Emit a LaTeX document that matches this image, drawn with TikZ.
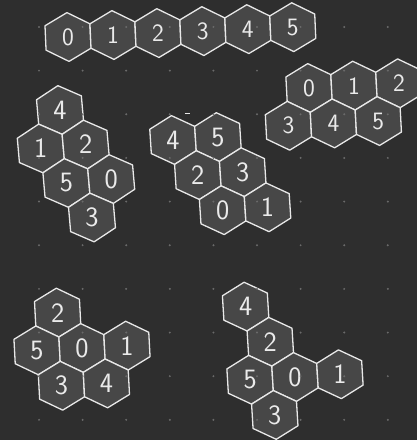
\documentclass[tikz,border=0pt]{standalone}
\usepackage{tikz}
\definecolor{bgc}{HTML}{2E2E2E}
\definecolor{cellc}{HTML}{474747}
\definecolor{linec}{HTML}{E8E8E8}
\definecolor{dotc}{HTML}{6A6A6A}
\definecolor{textc}{HTML}{EAEAEA}
\tikzset{
  cell/.style={draw=linec, fill=cellc, line width=1.3pt, line join=round},
  digit/.style={text=textc, font=\sffamily\fontsize{25}{25}\selectfont, inner sep=0pt},
  bigdigit/.style={digit, font=\sffamily\fontsize{28}{28}\selectfont},
  griddot/.style={fill=dotc, draw=none},
}
% #1 name, #2 q, #3 r, #4 label, #5 digit style
\newcommand\hexcell[5]{%
  \pgfmathsetmacro\hx{(#2)*45+(#3)*22.5}%
  \pgfmathsetmacro\hy{-(#3)*38.971}%
  \draw[cell] (\hx,\hy) +(30:25.98) -- +(90:25.98) -- +(150:25.98) -- +(210:25.98) -- +(270:25.98) -- +(330:25.98) -- cycle;
  \node[#5] (#1) at (\hx,\hy) {#4};
}
\begin{document}
\begin{tikzpicture}[x=1pt,y=1pt]
\fill[bgc] (0,0) rectangle (417,440);
\useasboundingbox (0,0) rectangle (417,440);

% group 1: top row
\begin{scope}[shift={(68,403)}, rotate=2.5, yscale=0.94]
  \foreach \q/\r/\t in {0/0/0, 1/0/1, 2/0/2, 3/0/3, 4/0/4, 5/0/5}
    {\hexcell{a\t}{\q}{\r}{\t}{digit}}
\end{scope}

% group 2: left middle
\begin{scope}[shift={(60,330)}, rotate=5, yscale=0.94]
  \foreach \q/\r/\t in {0/0/4, -1/1/1, 0/1/2, -1/2/5, 0/2/0, -1/3/3}
    {\hexcell{b\t}{\q}{\r}{\t}{bigdigit}}
\end{scope}

% group 3: centre
\begin{scope}[shift={(173,300)}, rotate=3.7, yscale=0.94]
  \foreach \q/\r/\t in {0/0/4, 1/0/5, 0/1/2, 1/1/3, 0/2/0, 1/2/1}
    {\hexcell{c\t}{\q}{\r}{\t}{bigdigit}}
\end{scope}
\draw[linec, line width=1pt] (184.5,326) -- (189.5,326);

% group 4: top right
\begin{scope}[shift={(309,352)}, rotate=3, yscale=0.94]
  \foreach \q/\r/\t in {0/0/0, 1/0/1, 2/0/2, -1/1/3, 0/1/4, 1/1/5}
    {\hexcell{d\t}{\q}{\r}{\t}{digit}}
\end{scope}

% group 5: bottom left
\begin{scope}[shift={(82,92)}, rotate=3, yscale=0.94]
  \foreach \q/\r/\t in {0/-1/2, -1/0/5, 0/0/0, 1/0/1, -1/1/3, 0/1/4}
    {\hexcell{e\t}{\q}{\r}{\t}{bigdigit}}
\end{scope}

% group 6: bottom right
\begin{scope}[shift={(295,63)}, rotate=3.5, yscale=0.94]
  \foreach \q/\r/\t in {0/-2/4, 0/-1/2, -1/0/5, 0/0/0, 1/0/1, -1/1/3}
    {\hexcell{f\t}{\q}{\r}{\t}{bigdigit}}
\end{scope}

% dot grid
\foreach \i in {0,...,8}
  \foreach \j in {0,...,9}
    {\fill[griddot] (39+43.6*\i, 413-43.65*\j) circle (1.1);}
\end{tikzpicture}
\end{document}
